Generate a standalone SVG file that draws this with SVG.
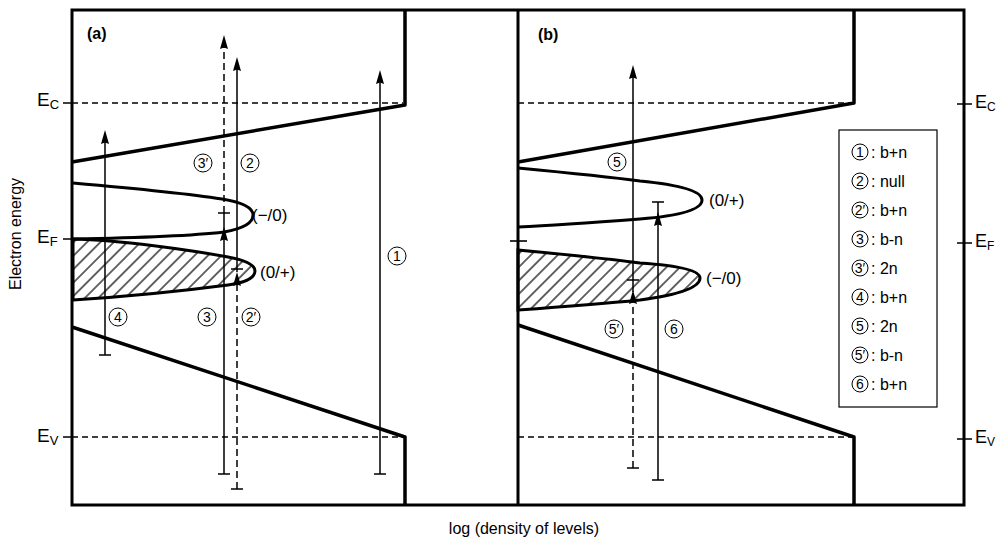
<svg xmlns="http://www.w3.org/2000/svg" width="996" height="538" viewBox="0 0 996 538">
<style>
text{font-family:"Liberation Sans",Arial,sans-serif;fill:#000}
.frame{fill:none;stroke:#000;stroke-width:3;stroke-linejoin:miter}
.band{fill:none;stroke:#000;stroke-width:3.5;stroke-linejoin:round}
.peak{fill:none;stroke:#000;stroke-width:3}
.hpeak{fill:url(#hatch);stroke:#000;stroke-width:3}
.lvl{fill:none;stroke:#000;stroke-width:1.6;stroke-dasharray:6 4}
.tick{fill:none;stroke:#000;stroke-width:1.6}
.arr{fill:none;stroke:#000;stroke-width:1.5}
.arrd{fill:none;stroke:#000;stroke-width:1.5;stroke-dasharray:7 4}
.lab{font-size:16px}
.num{font-size:14px;text-anchor:middle}
.circ{fill:#fff;stroke:#000;stroke-width:1}
.big{font-size:19px}
.sub{font-size:13px}
</style>
<defs>
<pattern id="hatch" width="9.5" height="9.5" patternUnits="userSpaceOnUse" patternTransform="rotate(45)">
<line x1="4.75" y1="0" x2="4.75" y2="9.5" stroke="#000" stroke-width="1.2"/>
</pattern>
<path id="ah" d="M0,0 L4,14 L0,12.5 L-4,14 Z" fill="#000"/>
</defs>
<rect width="996" height="538" fill="#fff"/>

<g id="frame">
<path class="frame" d="M72,10 H964 V505 H72 Z"/>
<path class="frame" d="M518,10 V505"/>
</g>

<g id="panel-a">
<path class="band" d="M405,10 V105 L72,162"/>
<path class="band" d="M72,327 L405,437 V505"/>
<path class="lvl" d="M72,103 H403"/>
<path class="lvl" d="M72,437 H403"/>
<path class="hpeak" d="M73,239 C120,240 190,250 228,257 Q255,262 255,271 Q255,281 228,285 C190,290 120,297 73,300 Z"/>
<path class="peak" d="M73,183 C130,188 190,194 222,199 Q253,204 253,215 Q253,227 224,232 C190,236 130,238 73,239"/>
<text x="87" y="39" style="font-size:16px;font-weight:bold">(a)</text>
<text class="lab" x="252" y="221" style="font-size:17px">(−/0)</text>
<text class="lab" x="260" y="278" style="font-size:17px">(0/+)</text>
</g>

<g id="panel-b">
<path class="band" d="M854,10 V103 L518,162"/>
<path class="band" d="M518,325 L854,437 V505"/>
<path class="lvl" d="M518,103 H852"/>
<path class="lvl" d="M518,437 H852"/>
<path class="hpeak" d="M518,250 C560,254 610,259 640,263 Q700,267 700,278 Q700,292 640,300 C600,304 560,307 518,310 Z"/>
<path class="peak" d="M518,168 C560,172 610,177 640,181 Q702,187 702,200 Q702,214 640,219 C600,222 560,225 518,227"/>
<path class="tick" d="M510,241 H527"/>
<text x="538" y="40" style="font-size:16px;font-weight:bold">(b)</text>
<text class="lab" x="709" y="206" style="font-size:17px">(0/+)</text>
<text class="lab" x="706" y="284" style="font-size:17px">(−/0)</text>
</g>

<g id="axes">
<path class="tick" d="M63,103 H72 M63,239 H72 M63,437 H72"/>
<path class="tick" d="M957,104 H972 M957,243 H972 M957,439 H972"/>
<text class="big" x="37" y="106">E<tspan class="sub" dy="3">C</tspan></text>
<text class="big" x="37" y="243">E<tspan class="sub" dy="3">F</tspan></text>
<text class="big" x="37" y="442">E<tspan class="sub" dy="3">V</tspan></text>
<text x="975" y="108" style="font-size:18px">E<tspan style="font-size:12px" dy="3">C</tspan></text>
<text x="975" y="247" style="font-size:18px">E<tspan style="font-size:12px" dy="3">F</tspan></text>
<text x="975" y="443" style="font-size:18px">E<tspan style="font-size:12px" dy="3">V</tspan></text>
<text x="21" y="234" transform="rotate(-90 21 234)" style="font-size:16px;text-anchor:middle">Electron energy</text>
<text x="524" y="534" style="font-size:16px;text-anchor:middle">log (density of levels)</text>
</g>

<g id="connectors">
<!-- 4 -->
<path class="arr" d="M105,355 V140 M99,355 H111"/>
<use href="#ah" x="105" y="130"/>
<!-- 3 and 3' -->
<path class="arr" d="M224,474 V213 M218,474 H230 M218,213 H230"/>
<use href="#ah" x="224" y="227"/>
<path class="arrd" d="M224,213 V46"/>
<use href="#ah" x="224" y="35"/>
<!-- 2 and 2' -->
<path class="arr" d="M237,272 V68 M231,269 H243"/>
<use href="#ah" x="237" y="57"/>
<path class="arrd" d="M237,489 V283"/>
<path class="arr" d="M231,489 H243"/>
<use href="#ah" x="237" y="272"/>
<!-- 1 -->
<path class="arr" d="M380,474 V81 M374,474 H386"/>
<use href="#ah" x="380" y="70"/>
<!-- 5 and 5' -->
<path class="arr" d="M633,292 V76 M627,280 H639"/>
<use href="#ah" x="633" y="65"/>
<path class="arrd" d="M633,468 V302"/>
<path class="arr" d="M627,468 H639"/>
<use href="#ah" x="633" y="290"/>
<!-- 6 -->
<path class="arr" d="M658,480 V202 M652,480 H664 M652,202 H664"/>
<use href="#ah" x="658" y="212"/>
</g>

<g id="labels">
<g id="l3p"><circle class="circ" cx="203" cy="163" r="9"/><text class="num" x="203" y="168">3′</text></g>
<g id="l2"><circle class="circ" cx="250" cy="163" r="9"/><text class="num" x="250" y="168">2</text></g>
<g id="l1"><circle class="circ" cx="397" cy="256" r="9"/><text class="num" x="397" y="261">1</text></g>
<g id="l4"><circle class="circ" cx="118" cy="317" r="9"/><text class="num" x="118" y="322">4</text></g>
<g id="l3"><circle class="circ" cx="207" cy="317" r="9"/><text class="num" x="207" y="322">3</text></g>
<g id="l2p"><circle class="circ" cx="251" cy="317" r="9"/><text class="num" x="251" y="322">2′</text></g>
<g id="l5"><circle class="circ" cx="617" cy="162" r="9"/><text class="num" x="617" y="167">5</text></g>
<g id="l5p"><circle class="circ" cx="614" cy="329" r="9"/><text class="num" x="614" y="334">5′</text></g>
<g id="l6"><circle class="circ" cx="674" cy="329" r="9"/><text class="num" x="674" y="334">6</text></g>
</g>

<g id="legend">
<rect x="839" y="130" width="98" height="277" fill="#fff" stroke="#000" stroke-width="1.2"/>
<circle class="circ" cx="860" cy="152" r="8"/><text class="num" x="860" y="157">1</text><text class="lab" x="871" y="158">: b+n</text>
<circle class="circ" cx="860" cy="181" r="8"/><text class="num" x="860" y="186">2</text><text class="lab" x="871" y="187">: null</text>
<circle class="circ" cx="860" cy="210" r="8"/><text class="num" x="860" y="215">2′</text><text class="lab" x="871" y="216">: b+n</text>
<circle class="circ" cx="860" cy="239" r="8"/><text class="num" x="860" y="244">3</text><text class="lab" x="871" y="245">: b-n</text>
<circle class="circ" cx="860" cy="268" r="8"/><text class="num" x="860" y="273">3′</text><text class="lab" x="871" y="274">: 2n</text>
<circle class="circ" cx="860" cy="297" r="8"/><text class="num" x="860" y="302">4</text><text class="lab" x="871" y="303">: b+n</text>
<circle class="circ" cx="860" cy="326" r="8"/><text class="num" x="860" y="331">5</text><text class="lab" x="871" y="332">: 2n</text>
<circle class="circ" cx="860" cy="355" r="8"/><text class="num" x="860" y="360">5′</text><text class="lab" x="871" y="361">: b-n</text>
<circle class="circ" cx="860" cy="384" r="8"/><text class="num" x="860" y="389">6</text><text class="lab" x="871" y="390">: b+n</text>
</g>
</svg>
